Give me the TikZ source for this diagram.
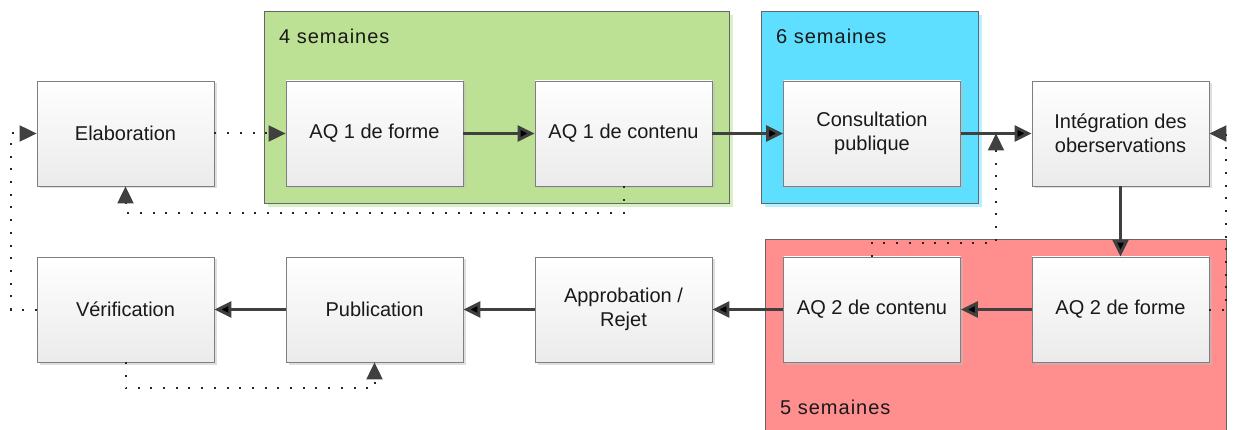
\documentclass[tikz,border=0pt]{standalone}
\usepackage{fontspec}
\setmainfont{Liberation Sans}
\newfontfamily\spacedfont[LetterSpace=5]{Liberation Sans}
\usetikzlibrary{arrows.meta,shadows}

\definecolor{boxline}{HTML}{7F7F7F}
\definecolor{flow}{HTML}{404040}
\definecolor{grn}{HTML}{BCE194}
\definecolor{grnshadow}{HTML}{D9EFC4}
\definecolor{blu}{HTML}{5FDFFF}
\definecolor{blushadow}{HTML}{B8F0FF}
\definecolor{rd}{HTML}{FF8F8F}

\tikzset{
    stepbox/.style={shape=rectangle, draw=boxline, line width=0.8pt, top color=white, bottom color=black!8,
        minimum width=177pt, minimum height=105pt, align=center, text=black!90,
        font=\fontsize{20}{24}\selectfont,
        drop shadow={shadow xshift=2.5pt, shadow yshift=-2.5pt, fill=black!25, opacity=0.5}},
    groupbox/.style={shape=rectangle, draw=black!60, line width=0.8pt, inner sep=0pt},
    grouplabel/.style={anchor=base west, inner sep=0pt, text=black!90, font=\spacedfont\fontsize{20}{24}\selectfont},
    flowline/.style={draw=flow, line width=3pt, -{Triangle[length=17pt,width=16pt]}},
    dotline/.style={draw=black!85, line width=2pt, dash pattern=on 2pt off 10.7pt,
        -{Triangle[length=17pt,width=16pt,color=flow]}}
}

\begin{document}
\begin{tikzpicture}[x=1pt,y=-1pt]
    \useasboundingbox (0,0) rectangle (1236,430);

    %groups
    \node[groupbox, fill=grn, minimum width=465pt, minimum height=192pt,
        drop shadow={shadow xshift=4pt, shadow yshift=-4pt, fill=grnshadow, opacity=1}] (10) at (496.5,107) {};
    \node[groupbox, fill=blu, minimum width=217pt, minimum height=192pt,
        drop shadow={shadow xshift=4pt, shadow yshift=-4pt, fill=blushadow, opacity=1}] (11) at (869.5,107) {};
    \node[groupbox, fill=rd, minimum width=461pt, minimum height=195pt] (12) at (995.5,336.5) {};
    \node[grouplabel] (13) at (279,43.5) {4 semaines};
    \node[grouplabel] (14) at (776,43.5) {6 semaines};
    \node[grouplabel] (15) at (780,414) {5 semaines};

    %row 1
    \node[stepbox] (0) at (125.5,133.5) {Elaboration};
    \node[stepbox] (1) at (374.5,133.5) {AQ 1 de forme};
    \node[stepbox] (2) at (623.5,133.5) {AQ 1 de contenu};
    \node[stepbox] (3) at (872,133.5) {Consultation\\publique};
    \node[stepbox] (4) at (1120.5,133.5) {Intégration des\\oberservations};

    %row 2
    \node[stepbox] (5) at (125.5,309.5) {Vérification};
    \node[stepbox] (6) at (374.5,309.5) {Publication};
    \node[stepbox] (7) at (623.5,309.5) {Approbation /\\Rejet};
    \node[stepbox] (8) at (872,309.5) {AQ 2 de contenu};
    \node[stepbox] (9) at (1120.5,309.5) {AQ 2 de forme};

    \coordinate (16) at (996,133.5);

    \path [flowline] (1) edge node {} (2);
    \path [flowline] (2) edge node {} (3);
    \path [flowline] (3) edge node {} (4);
    \path [flowline] (4) edge node {} (9);
    \path [flowline] (9) edge node {} (8);
    \path [flowline] (8) edge node {} (7);
    \path [flowline] (7) edge node {} (6);
    \path [flowline] (6) edge node {} (5);

    %loops back
    \path [dotline] (0) edge node {} (1);
    \draw [dotline] (5.west) -- ++(-26,0) |- (0.west);
    \draw [dotline] (2.south) -- ++(0,26.5) -| (0.south);
    \draw [dotline] (9.east) -- ++(17,0) |- (4.east);
    \draw [dotline] (8.north) -- ++(0,-14) -| (16);
    \draw [dotline] (5.south) -- ++(0,26) -| (6.south);
\end{tikzpicture}
\end{document}
